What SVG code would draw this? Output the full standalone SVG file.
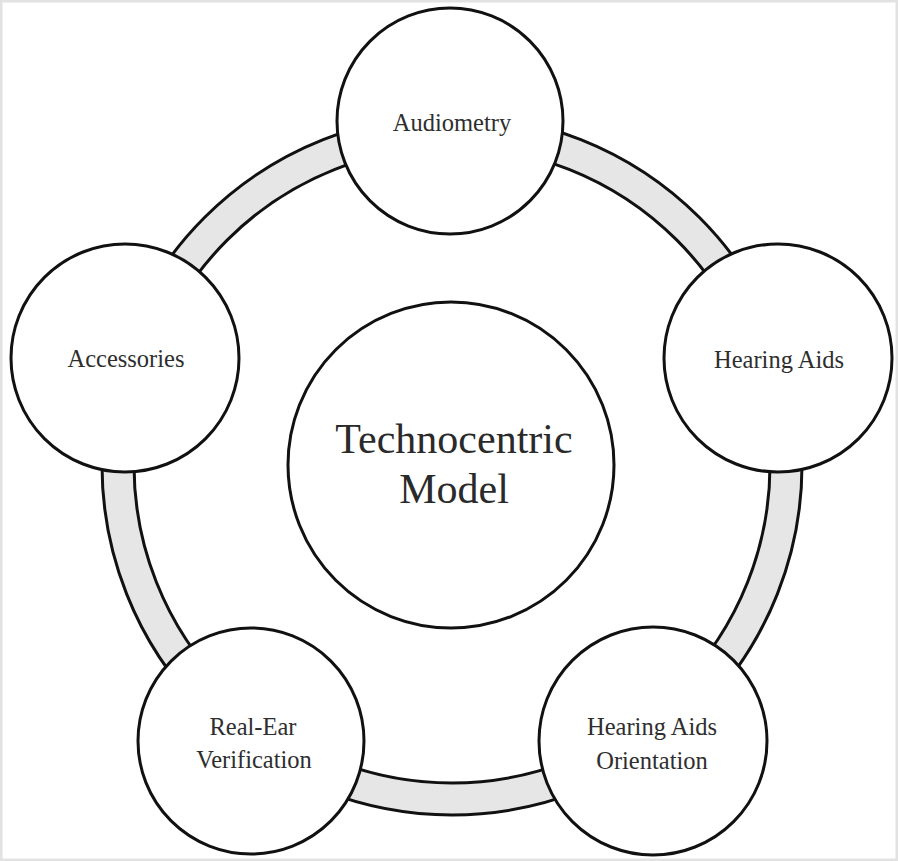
<svg xmlns="http://www.w3.org/2000/svg" width="898" height="861" viewBox="0 0 898 861">
<style>
.node{fill:#fff;stroke:#111;stroke-width:3}
.band{fill:#e6e6e6;stroke:#111;stroke-width:3;fill-rule:evenodd}
.lbl{font-family:"Liberation Serif","Times New Roman",serif;font-size:24.5px;fill:#2e2e2e;text-anchor:middle}
.big{font-family:"Liberation Serif","Times New Roman",serif;font-size:42px;fill:#2a2a2a;text-anchor:middle}
</style>
<rect x="0" y="0" width="898" height="861" fill="#fff"/>
<rect x="1" y="1" width="896" height="859" fill="none" stroke="#e2e2e2" stroke-width="3"/>
<g id="connectors">
<path class="band" d="M102,465 A350,350 0 1,0 802,465 A350,350 0 1,0 102,465 Z M134,465 A318,318 0 1,0 770,465 A318,318 0 1,0 134,465 Z"/>
</g>
<g id="center">
<circle class="node" cx="451" cy="465" r="163"/>
<text class="big" x="454" y="453">Technocentric</text>
<text class="big" x="454" y="503">Model</text>
</g>
<g id="audiometry">
<circle class="node" cx="450" cy="121" r="113"/>
<text class="lbl" x="452" y="131">Audiometry</text>
</g>
<g id="hearing-aids">
<circle class="node" cx="778" cy="358" r="114"/>
<text class="lbl" x="779" y="368">Hearing Aids</text>
</g>
<g id="accessories">
<circle class="node" cx="125" cy="358" r="114"/>
<text class="lbl" x="126" y="367">Accessories</text>
</g>
<g id="real-ear">
<circle class="node" cx="251" cy="741" r="113"/>
<text class="lbl" x="253" y="735">Real-Ear</text>
<text class="lbl" x="254" y="768">Verification</text>
</g>
<g id="orientation">
<circle class="node" cx="653" cy="741" r="114"/>
<text class="lbl" x="652" y="735">Hearing Aids</text>
<text class="lbl" x="652" y="769">Orientation</text>
</g>
</svg>
